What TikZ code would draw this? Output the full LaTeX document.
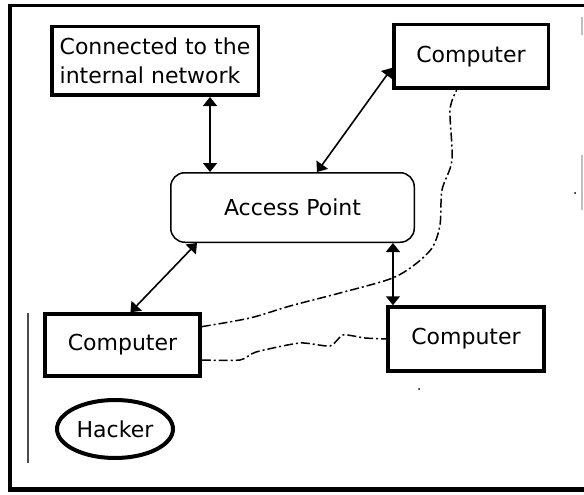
\documentclass[tikz,border=0pt]{standalone}
\usepackage{fontspec}
\setmainfont{DejaVu Sans}
\usetikzlibrary{arrows.meta,shapes.geometric,calc}
\begin{document}
\begin{tikzpicture}[x=1pt,y=-1pt,
  lbl/.style={font=\fontsize{22}{29}\selectfont},
  box/.style={draw,line width=3.5pt,rectangle,inner sep=0pt,lbl},
  conn/.style={line width=1.6pt,{Triangle[width=14pt,length=9pt]}-{Triangle[width=14pt,length=9pt]}},
  wire/.style={line width=1.5pt,dash pattern=on 9pt off 3pt on 2pt off 3pt}]
\useasboundingbox (0,0) rectangle (584,495);
\fill[white] (0,0) rectangle (584,495);
% frame
\draw[line width=3.5pt] (10,491) -- (10,5.5) -- (584,5.5);
\draw[line width=4.5pt] (8,489.5) -- (584,489.5);
\draw[line width=1.5pt,black!25] (582,17) -- (582,35) (582,155) -- (582,210);
\fill (575,193) circle (1pt);
\fill (419,389) circle (1pt);
\draw[line width=1.5pt,black!70] (28,313) -- (28,463);
% nodes
\node[box,minimum width=206.5pt,minimum height=68.5pt,align=left] (net) at (155,61) {Connected to the\\internal network};
\node[box,minimum width=154.5pt,minimum height=63.5pt] (c1) at (471,56.5) {Computer};
\node[box,minimum width=155pt,minimum height=62pt] (c2) at (122.5,345) {Computer};
\node[box,minimum width=156pt,minimum height=64pt] (c3) at (466,339) {Computer};
\node[draw,line width=1.5pt,rounded corners=14pt,inner sep=0pt,lbl,minimum width=243.5pt,minimum height=69.5pt] (ap) at (292.5,207.5) {Access Point};
\node[draw,ellipse,line width=4pt,inner sep=0pt,lbl,minimum width=116pt,minimum height=58pt] (hk) at (115,429) {Hacker};
% connectors
\coordinate (a1) at ($(net.south west)!0.762!(net.south east)$);
\draw[conn] (a1) -- (a1 |- ap.north);
\coordinate (a2s) at ($(c1.south west)!0.33!(c1.north west)$);
\coordinate (a2e) at ($(ap.north west)!0.6!(ap.north east)$);
\draw[conn] (a2s) -- (a2e);
\coordinate (a3s) at ($(ap.south west)!0.11!(ap.south east)$);
\coordinate (a3e) at ($(c2.north west)!0.55!(c2.north east)$);
\draw[conn] (a3s) -- (a3e);
\coordinate (a4) at ($(ap.south west)!0.91!(ap.south east)$);
\draw[conn] (a4) -- (a4 |- c3.north);
% wires
\coordinate (w1) at ($(c2.north east)!0.22!(c2.south east)$);
\coordinate (w2) at ($(c1.south west)!0.41!(c1.south east)$);
\draw[wire] plot[smooth,tension=0.5] coordinates {(w1) (250,318) (290,306) (340,293) (390,279) (413,266) (432,248) (440,225) (442,190) (452,160) (450,110) (w2)};
\coordinate (w3) at ($(c2.north east)!0.73!(c2.south east)$);
\draw[wire] plot[smooth,tension=0.4] coordinates {(w3) (240,360) (256,352) (300,343) (330,346) (343,335) (365,338) (c3.west)};
\end{tikzpicture}
\end{document}
